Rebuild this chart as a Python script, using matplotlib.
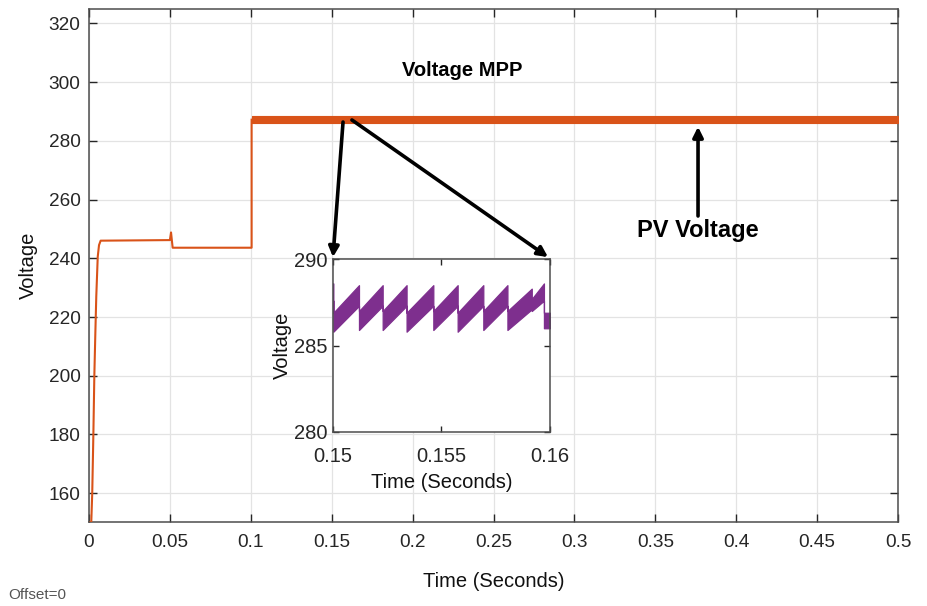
import matplotlib
matplotlib.use("Agg")
import matplotlib.pyplot as plt
import numpy as np

plt.rcParams['font.family'] = ['Liberation Sans', 'DejaVu Sans']

# ---- main trace data (time s, voltage V) ----
t_main = [0.0, 0.0014, 0.0020, 0.0027, 0.0033, 0.0039, 0.0045, 0.0054, 0.0062, 0.0072,
          0.0500, 0.0507, 0.0517, 0.1005, 0.1005]
v_main = [150.0, 150.0, 160.0, 180.0, 200.0, 214.0, 227.0, 240.5, 244.5, 246.0,
          246.2, 248.8, 243.6, 243.6, 287.2]
# steady-state MPP band after 0.1 s
band_t = [0.1005, 0.5]
band_low = [286.2, 286.2]
band_high = [288.4, 288.4]

# ---- inset (zoomed ripple) data: per-segment start/end and band edges ----
seg_start = [0.15000, 0.15003, 0.15121, 0.15230, 0.15340, 0.15463, 0.15575, 0.15693, 0.15804, 0.15916, 0.15972]
seg_end   = [0.15003, 0.15121, 0.15230, 0.15340, 0.15463, 0.15575, 0.15693, 0.15804, 0.15916, 0.15972, 0.16000]
up_start  = [288.6, 286.9, 287.0, 287.0, 286.9, 287.0, 286.9, 287.0, 287.0, 287.7, 286.9]
up_end    = [288.6, 288.5, 288.5, 288.5, 288.5, 288.5, 288.5, 288.5, 288.3, 288.6, 286.9]
lo_start  = [287.6, 285.8, 285.9, 285.9, 285.8, 285.9, 285.8, 285.9, 285.9, 287.0, 286.0]
lo_end    = [287.6, 287.3, 287.3, 287.3, 287.3, 287.3, 287.3, 287.3, 287.1, 287.6, 286.0]

main_xticks = [0, 0.05, 0.1, 0.15, 0.2, 0.25, 0.3, 0.35, 0.4, 0.45, 0.5]
main_xlabels = ['0', '0.05', '0.1', '0.15', '0.2', '0.25', '0.3', '0.35', '0.4', '0.45', '0.5']
main_yticks = [160, 180, 200, 220, 240, 260, 280, 300, 320]
inset_xticks = [0.15, 0.155, 0.16]
inset_xlabels = ['0.15', '0.155', '0.16']
inset_yticks = [280, 285, 290]

ORANGE = '#D95319'
PURPLE = '#7E2F8E'
AXC = '#262626'

fig = plt.figure(figsize=(9.28, 6.06), dpi=100)
ax = fig.add_axes([0.0959, 0.1391, 0.8718, 0.8456])

ax.plot(t_main, v_main, color=ORANGE, lw=1.5, zorder=3)
ax.fill_between(band_t, band_low, band_high, color=ORANGE, lw=0.8, edgecolor=ORANGE, zorder=3)

ax.set_xlim(0, 0.5)
ax.set_ylim(150.3, 324.8)
ax.set_xticks(main_xticks)
ax.set_xticklabels(main_xlabels)
ax.set_yticks(main_yticks)
ax.grid(True, color='#e3e3e3', lw=0.9)
ax.set_axisbelow(True)
ax.tick_params(direction='in', length=6, width=1, colors=AXC, labelsize=13.7,
               top=True, right=True, pad=6)
ax.tick_params(axis='x', pad=9)
for sp in ax.spines.values():
    sp.set_color('#4d4d4d')
    sp.set_linewidth(1.1)
ax.set_xlabel('Time (Seconds)', fontsize=14.5, color='#111111', labelpad=15)
ax.set_ylabel('Voltage', fontsize=14.5, color='#111111', labelpad=8)

# annotations
ax.text(0.2305, 304.1, 'Voltage MPP', fontsize=14.5, fontweight='bold', ha='center', va='center')
ax.text(0.3764, 249.6, 'PV Voltage', fontsize=17, fontweight='bold', ha='center', va='center')
arrow = dict(arrowstyle='-|>', lw=2.6, color='black', mutation_scale=15, shrinkA=0, shrinkB=0)
ax.annotate('', xy=(0.3764, 284.8), xytext=(0.3764, 254.4), arrowprops=arrow, zorder=5)
ax.annotate('', xy=(0.1508, 240.4), xytext=(0.1570, 286.4), arrowprops=arrow, zorder=5)
ax.annotate('', xy=(0.2837, 240.4), xytext=(0.1625, 287.1), arrowprops=arrow, zorder=5)

fig.text(8 / 928, 1 - 595 / 606, 'Offset=0', fontsize=11, color='#555555', va='center', ha='left')

# ---- inset ----
axi = fig.add_axes([0.3585, 0.2876, 0.2342, 0.2845])
ti, ui, li = [], [], []
for s, e, u0, u1, l0, l1 in zip(seg_start, seg_end, up_start, up_end, lo_start, lo_end):
    ti += [s, e]
    ui += [u0, u1]
    li += [l0, l1]
axi.fill_between(ti, li, ui, color=PURPLE, edgecolor=PURPLE, lw=0.9)
axi.set_xlim(0.15, 0.16)
axi.set_ylim(280, 290)
axi.set_xticks(inset_xticks)
axi.set_xticklabels(inset_xlabels)
axi.set_yticks(inset_yticks)
axi.tick_params(direction='in', length=4, width=1, colors=AXC, labelsize=14.5,
                top=True, right=True, pad=4)
axi.tick_params(axis='x', pad=11)
for sp in axi.spines.values():
    sp.set_color('#4d4d4d')
    sp.set_linewidth(1.1)
axi.set_xlabel('Time (Seconds)', fontsize=14.5, color='#111111', labelpad=5)
axi.set_ylabel('Voltage', fontsize=14.5, color='#111111', labelpad=1)

fig.savefig('out.png', dpi=100)
